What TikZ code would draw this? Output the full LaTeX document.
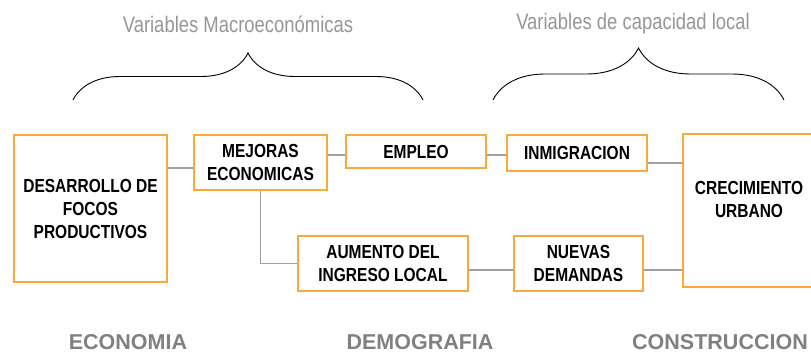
\documentclass[tikz,border=0pt]{standalone}
\usepackage{fontspec}
\setmainfont{Liberation Sans}
\newfontfamily\narrowfont[FakeStretch=0.82]{Liberation Sans}
\usetikzlibrary{positioning, decorations.pathreplacing}
\definecolor{boxorange}{RGB}{250,170,55}
\definecolor{linegray}{RGB}{160,160,160}
\definecolor{titlegray}{RGB}{150,150,150}
\definecolor{areagray}{RGB}{128,128,128}
\tikzset{
  x=1pt, y=1pt,
  boxtext/.style={align=center, font=\narrowfont\bfseries\fontsize{18.9}{23}\selectfont},
  box/.style={boxtext, rectangle, draw=boxorange, line width=1.3pt, inner sep=0pt}, % orange framed boxes
  link/.style={draw=linegray, line width=1.2pt}, % grey connectors
  area/.style={text=areagray, inner sep=0pt, font=\bfseries\fontsize{21.5}{24}\selectfont},
  group/.style={text=titlegray, font=\narrowfont\fontsize{22.5}{26}\selectfont},
  bracket/.style={decorate, decoration={brace, amplitude=#1}, line width=0.9pt}
}

\begin{document}
\begin{tikzpicture}
    \useasboundingbox (0,0) rectangle (811,-353);

    \node[box, minimum width=153, minimum height=147] (desarrollo) at (90.5,-208.5) {DESARROLLO DE\\FOCOS\\PRODUCTIVOS};
    \node[box, minimum width=133, minimum height=55] (mejoras) at (260.5,-162.5) {MEJORAS\\ECONOMICAS};
    \node[box, minimum width=140, minimum height=33] (empleo) at (416,-151.5) {EMPLEO};
    \node[box, minimum width=140, minimum height=36] (inmigracion) at (577,-153) {INMIGRACION};
    \node[box, minimum width=132, minimum height=153] (crecimiento) at (749,-210.5) {};
    \node[boxtext] (crecimiento_text) at (749,-199) {CRECIMIENTO\\URBANO};
    \node[box, minimum width=170, minimum height=55] (aumento) at (383,-263.5) {AUMENTO DEL\\INGRESO LOCAL};
    \node[box, minimum width=129, minimum height=55] (nuevas) at (578.5,-263.5) {NUEVAS\\DEMANDAS};

    \path[link]
      ([yshift=-5.5]mejoras.west) coordinate (a1) -- (a1 -| desarrollo.east)
      ([yshift=-3.5]empleo.west) coordinate (a2) -- (a2 -| mejoras.east)
      ([yshift=-2]inmigracion.west) coordinate (a3) -- (a3 -| empleo.east)
      ([yshift=-10]inmigracion.east) coordinate (a4) -- (a4 -| crecimiento.west)
      (mejoras.south) |- (aumento.west)
      ([yshift=-6.5]aumento.east) coordinate (a5) -- (a5 -| nuevas.west)
      ([yshift=-6.5]nuevas.east) coordinate (a6) -- (a6 -| crecimiento.west)
      ;

    % braces and headings
    \coordinate (macro_l) at (73,-100);
    \coordinate (macro_r) at (423,-100);
    \coordinate (local_l) at (493,-100);
    \coordinate (local_r) at (784,-100);
    \draw[bracket=47pt] (macro_l) -- (macro_r);
    \draw[bracket=52pt] (local_l) -- (local_r);
    \node[group] (macro) at (238,-24) {Variables Macroeconómicas};
    \node[group] (local) at (633,-24) {Variables de capacidad local};

    % areas
    \node[area] (economia) at (128,-342) {ECONOMIA};
    \node[area] (demografia) at (420,-342) {DEMOGRAFIA};
    \node[area] (construccion) at (720,-342) {CONSTRUCCION};
\end{tikzpicture}
\end{document}
